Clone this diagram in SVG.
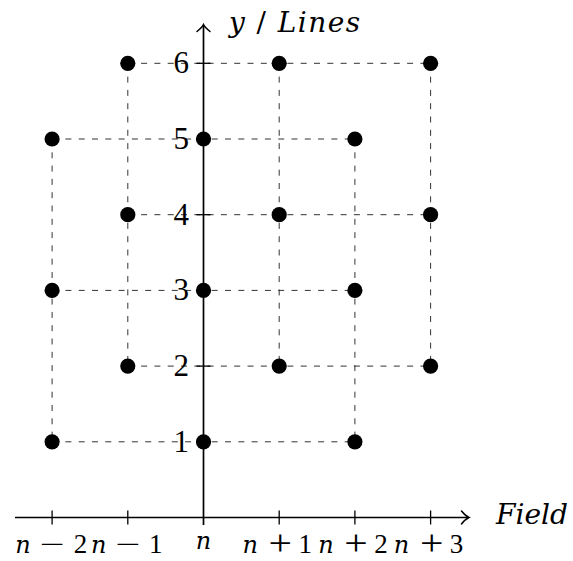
<svg xmlns="http://www.w3.org/2000/svg" width="573" height="561" viewBox="0 0 573 561">
<style>
.dash{stroke:#333;stroke-width:1;stroke-dasharray:6 7.3;fill:none}
.ax{stroke:#000;stroke-width:1.7;fill:none}
.tick{stroke:#000;stroke-width:1.3}
.arr{stroke:#000;stroke-width:1.5;fill:none;stroke-linecap:round}
.dot{fill:#000}
.yl{font-family:"Liberation Serif","Times New Roman",serif;font-size:31px;text-anchor:end;fill:#000}
.xl{font-family:"Liberation Serif","Times New Roman",serif;font-size:27px;text-anchor:middle;fill:#000}
.it{font-family:"DejaVu Serif",serif;font-style:italic;font-size:24px}
.op{font-family:"Liberation Serif","Times New Roman",serif;font-size:26px;text-anchor:middle;fill:#000}
.ttl{font-family:"DejaVu Serif",serif;font-style:italic;font-size:28px;fill:#000}
.up{font-style:normal}
</style>
<rect width="573" height="561" fill="#fff"/>
<g id="connectors">
<line class="dash" x1="52.1" y1="441.8" x2="354.9" y2="441.8"/>
<line class="dash" x1="52.1" y1="290.4" x2="354.9" y2="290.4"/>
<line class="dash" x1="52.1" y1="139" x2="354.9" y2="139"/>
<line class="dash" x1="127.8" y1="366.1" x2="430.6" y2="366.1"/>
<line class="dash" x1="127.8" y1="214.7" x2="430.6" y2="214.7"/>
<line class="dash" x1="127.8" y1="63.3" x2="430.6" y2="63.3"/>
<line class="dash" x1="52.1" y1="139" x2="52.1" y2="441.8"/>
<line class="dash" x1="127.8" y1="63.3" x2="127.8" y2="366.1"/>
<line class="dash" x1="279.2" y1="63.3" x2="279.2" y2="366.1"/>
<line class="dash" x1="354.9" y1="139" x2="354.9" y2="441.8"/>
<line class="dash" x1="430.6" y1="63.3" x2="430.6" y2="366.1"/>
</g>
<g id="axes">
<line class="ax" x1="15" y1="517.5" x2="468" y2="517.5"/>
<path class="arr" d="M461.5,511 Q465.5,516 469,517.5 Q465.5,519 461.5,524"/>
<line class="ax" x1="203.5" y1="525" x2="203.5" y2="26"/>
<path class="arr" d="M197,31.5 Q202,27.5 203.5,24.5 Q205,27.5 210,31.5"/>
<g class="tick">
<line x1="52.1" y1="510.5" x2="52.1" y2="524.5"/>
<line x1="127.8" y1="510.5" x2="127.8" y2="524.5"/>
<line x1="279.2" y1="510.5" x2="279.2" y2="524.5"/>
<line x1="354.9" y1="510.5" x2="354.9" y2="524.5"/>
<line x1="430.6" y1="510.5" x2="430.6" y2="524.5"/>
<line x1="196.5" y1="441.8" x2="210.5" y2="441.8"/>
<line x1="196.5" y1="366.1" x2="210.5" y2="366.1"/>
<line x1="196.5" y1="290.4" x2="210.5" y2="290.4"/>
<line x1="196.5" y1="214.7" x2="210.5" y2="214.7"/>
<line x1="196.5" y1="139" x2="210.5" y2="139"/>
<line x1="196.5" y1="63.3" x2="210.5" y2="63.3"/>
</g>
<text class="ttl" x="229" y="32" textLength="131" lengthAdjust="spacing">y <tspan class="up">/</tspan> Lines</text>
<text class="ttl" x="496" y="524" textLength="72" lengthAdjust="spacingAndGlyphs">Field</text>
</g>
<g id="ylabels">
<text class="yl" x="189" y="451.8">1</text>
<text class="yl" x="189" y="376.1">2</text>
<text class="yl" x="189" y="300.4">3</text>
<text class="yl" x="189" y="224.7">4</text>
<text class="yl" x="189" y="149">5</text>
<text class="yl" x="189" y="73.3">6</text>
</g>
<g id="xlabels">
<text class="xl it" x="23.1" y="553">n</text><text class="op" transform="translate(52.5,553) scale(1.7,1)">−</text><text class="xl" x="80.5" y="553">2</text>
<text class="xl it" x="98.8" y="553">n</text><text class="op" transform="translate(128.2,553) scale(1.7,1)">−</text><text class="xl" x="155.8" y="553">1</text>
<text class="xl it" x="203.5" y="549">n</text>
<text class="xl it" x="250.2" y="553">n</text><text class="op" transform="translate(280.2,555) scale(1.6,1.4)">+</text><text class="xl" x="305.2" y="553">1</text>
<text class="xl it" x="325.9" y="553">n</text><text class="op" transform="translate(355.9,555) scale(1.6,1.4)">+</text><text class="xl" x="380.9" y="553">2</text>
<text class="xl it" x="401.6" y="553">n</text><text class="op" transform="translate(431.6,555) scale(1.6,1.4)">+</text><text class="xl" x="456.6" y="553">3</text>
</g>
<g id="n-2_1"><circle class="dot" cx="52.1" cy="441.8" r="7.6"/></g>
<g id="n-2_3"><circle class="dot" cx="52.1" cy="290.4" r="7.6"/></g>
<g id="n-2_5"><circle class="dot" cx="52.1" cy="139" r="7.6"/></g>
<g id="n-1_2"><circle class="dot" cx="127.8" cy="366.1" r="7.6"/></g>
<g id="n-1_4"><circle class="dot" cx="127.8" cy="214.7" r="7.6"/></g>
<g id="n-1_6"><circle class="dot" cx="127.8" cy="63.3" r="7.6"/></g>
<g id="n_1"><circle class="dot" cx="203.5" cy="441.8" r="7.6"/></g>
<g id="n_3"><circle class="dot" cx="203.5" cy="290.4" r="7.6"/></g>
<g id="n_5"><circle class="dot" cx="203.5" cy="139" r="7.6"/></g>
<g id="n+1_2"><circle class="dot" cx="279.2" cy="366.1" r="7.6"/></g>
<g id="n+1_4"><circle class="dot" cx="279.2" cy="214.7" r="7.6"/></g>
<g id="n+1_6"><circle class="dot" cx="279.2" cy="63.3" r="7.6"/></g>
<g id="n+2_1"><circle class="dot" cx="354.9" cy="441.8" r="7.6"/></g>
<g id="n+2_3"><circle class="dot" cx="354.9" cy="290.4" r="7.6"/></g>
<g id="n+2_5"><circle class="dot" cx="354.9" cy="139" r="7.6"/></g>
<g id="n+3_2"><circle class="dot" cx="430.6" cy="366.1" r="7.6"/></g>
<g id="n+3_4"><circle class="dot" cx="430.6" cy="214.7" r="7.6"/></g>
<g id="n+3_6"><circle class="dot" cx="430.6" cy="63.3" r="7.6"/></g>
</svg>
